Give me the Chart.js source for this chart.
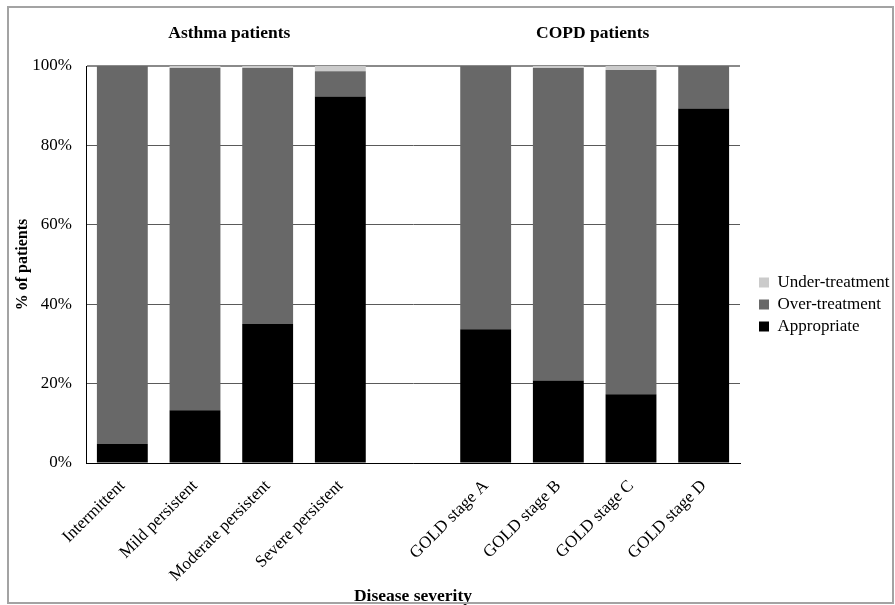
<!DOCTYPE html>
<html lang="en">
<head>
  <meta charset="UTF-8" />
  <title>Treatment by disease severity</title>
  <script src="https://cdn.jsdelivr.net/npm/chart.js"></script>
  <style>
    body {
      margin: 0;
      background: #fff;
    }

    #wrap {
      position: relative;
      width: 895px;
      height: 605px;
    }

    #wrap canvas {
      position: absolute;
      left: 0;
      top: 0;
    }

    /* grey frame round the whole figure */
    #frame {
      position: absolute;
      left: 7px;
      top: 6px;
      width: 887px;
      height: 598px;
      border: 2px solid #a3a3a3;
      box-sizing: border-box;
      pointer-events: none;
    }
  </style>
</head>
<body>
  <div id="wrap">
    <canvas id="chart" width="895" height="605"></canvas>
    <div id="frame"></div>
  </div>

  <script>
    const categories = ["Intermittent", "Mild persistent", "Moderate persistent", "Severe persistent", "",
                        "GOLD stage A", "GOLD stage B", "GOLD stage C", "GOLD stage D"];
    const appropriate    = [4.8, 13.3, 35.0, 92.3, null, 33.7, 20.8, 17.3, 89.3];
    const overTreatment  = [95.2, 86.2, 64.5, 6.4, null, 66.3, 78.7, 81.7, 10.7];
    const underTreatment = [0, 0.5, 0.5, 1.3, null, 0, 0.5, 1.0, 0];
    const yTicks = [0, 20, 40, 60, 80, 100];
    // group headings, centred over category index
    const groupNames = ["Asthma patients", "COPD patients"];
    const groupCenters = [1.5, 6.5];

    const serif = "'Liberation Serif', 'Times New Roman', serif";
    Chart.defaults.font.family = serif;
    Chart.defaults.color = "#000";

    // extra layout boxes: a strip on top for the group headings, a gap before the legend
    const extraBoxes = {
      id: "extraBoxes",
      beforeInit(chart) {
        Chart.layouts.addBox(chart, {
          position: "top", weight: 0, fullSize: false, options: {},
          width: 0, height: 0, left: 0, top: 0, right: 0, bottom: 0,
          isHorizontal() { return true; },
          update(maxWidth) { this.width = maxWidth; this.height = 62; },
          draw() {
            const ctx = chart.ctx;
            const x = chart.scales.x;
            ctx.save();
            ctx.font = "bold 17.5px " + serif;
            ctx.fillStyle = "#000";
            ctx.textAlign = "center";
            ctx.textBaseline = "middle";
            groupNames.forEach((name, i) => {
              ctx.fillText(name, x.getPixelForValue(groupCenters[i]) - 2, this.top + 29);
            });
            ctx.restore();
          }
        });
        Chart.layouts.addBox(chart, {
          position: "right", weight: 500, fullSize: false, options: {},
          width: 0, height: 0, left: 0, top: 0, right: 0, bottom: 0,
          isHorizontal() { return false; },
          update(maxWidth, maxHeight) { this.width = 14; this.height = maxHeight; },
          draw() {}
        });
      }
    };

    new Chart(document.getElementById("chart").getContext("2d"), {
      type: "bar",
      data: {
        labels: categories,
        datasets: [
          { label: "Appropriate", data: appropriate, backgroundColor: "#000000", borderWidth: 0 },
          { label: "Over-treatment", data: overTreatment, backgroundColor: "#686868", borderWidth: 0 },
          { label: "Under-treatment", data: underTreatment, backgroundColor: "#cbcbcb", borderWidth: 0 },
        ],
      },
      plugins: [extraBoxes],
      options: {
        responsive: false,
        animation: false,
        layout: { padding: { left: 9, right: 0, top: 4, bottom: 0 } },
        datasets: { bar: { barPercentage: 0.7, categoryPercentage: 1.0 } },
        plugins: {
          tooltip: { enabled: false },
          legend: {
            position: "right",
            reverse: true,
            maxWidth: 141,
            labels: { boxWidth: 10, boxHeight: 10, padding: 5, font: { size: 17 }, color: "#000" },
          },
        },
        scales: {
          x: {
            stacked: true,
            grid: { display: false, drawTicks: false },
            border: { color: "#000", width: 1 },
            ticks: { minRotation: 45, maxRotation: 45, autoSkip: false, padding: 13, font: { size: 17 }, color: "#000" },
            title: { display: true, text: "Disease severity", font: { size: 17.5, weight: "bold" }, padding: { top: 0, bottom: -2 }, color: "#000" },
            afterFit(scale) { scale.height = 142; },
          },
          y: {
            stacked: true,
            min: 0,
            max: 100,
            afterBuildTicks(scale) { scale.ticks = yTicks.map(v => ({ value: v })); },
            ticks: { callback: v => v + "%", padding: 14, font: { size: 17 }, color: "#000" },
            grid: {
              drawTicks: false,
              color: ctx => (ctx.tick && ctx.tick.value === 100 ? "#8a8a8a" : "#5a5a5a"),
              lineWidth: ctx => (ctx.tick && ctx.tick.value === 100 ? 2 : 1),
            },
            border: { color: "#000", width: 1 },
            title: { display: true, text: "% of patients", font: { size: 16, weight: "bold" }, color: "#000" },
            afterFit(scale) { scale.width = 77; },
          },
        },
      },
    });
  </script>
</body>
</html>
